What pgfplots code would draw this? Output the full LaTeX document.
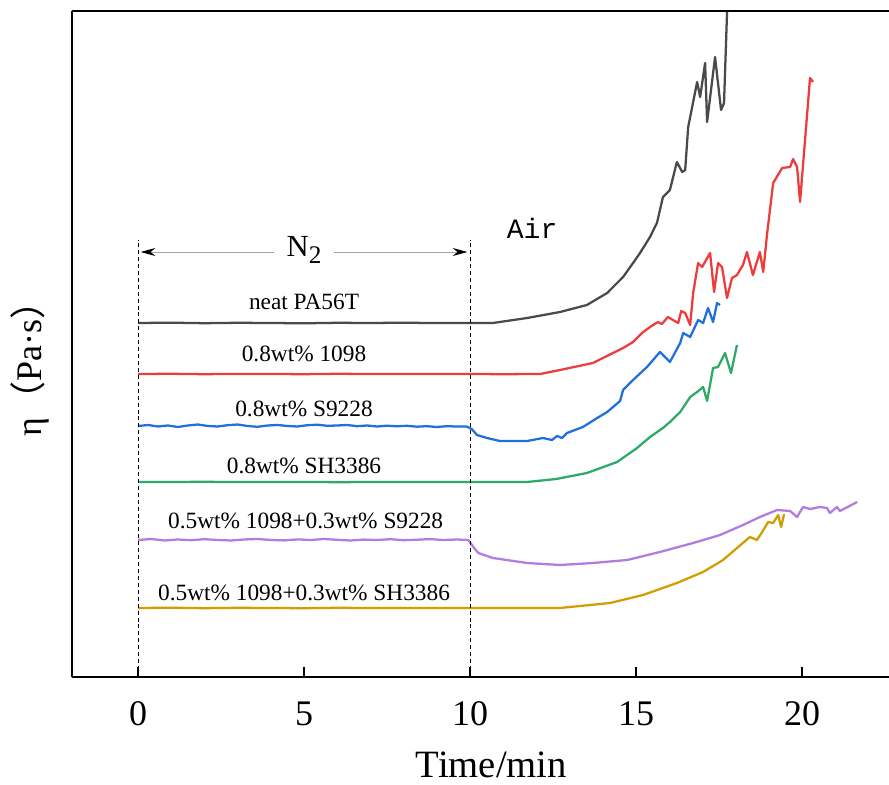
\documentclass[border=0pt]{standalone}
\usepackage{pgfplots}
\pgfplotsset{compat=1.18}
\usepackage{fontspec}
\setmainfont{Liberation Serif}
\setmonofont{Liberation Mono}
\newfontfamily\cjk{Noto Sans CJK SC}
\usetikzlibrary{arrows.meta}
\definecolor{cblack}{HTML}{4A4A4A}
\definecolor{cred}{HTML}{EE3B3B}
\definecolor{cblue}{HTML}{1F6FDC}
\definecolor{cgreen}{HTML}{2FAA66}
\definecolor{cpurple}{HTML}{B07CE0}
\definecolor{cgold}{HTML}{D09E00}
\begin{document}
\begin{tikzpicture}
\path[use as bounding box] (-54pt,-81pt) rectangle (612.75pt,507.75pt);
\begin{axis}[
  at={(0,0)}, anchor=south west,
  scale only axis,
  width=621pt, height=499.5pt,
  xmin=-1.988, xmax=22.95,
  ymin=0, ymax=666,
  axis x line*=bottom, axis y line*=left,
  axis line style={line width=2.2pt, black},
  xtick={0,5,10,15,20}, ytick=\empty,
  tick align=inside,
  major tick length=7.5pt,
  tick style={line width=1.8pt, black},
  /pgf/number format/assume math mode=true,
  xticklabel style={font=\fontsize{27}{27}\selectfont, anchor=base, yshift=-36pt},
  xlabel={Time/min},
  xlabel style={font=\fontsize{29}{29}\selectfont, anchor=base, at={(axis description cs:0.5,0)}, xshift=4pt, yshift=-75.5pt},
  ylabel={η{\cjk（}Pa·s{\cjk）}},
  ylabel style={font=\fontsize{27}{27}\selectfont, anchor=center, at={(axis description cs:-0.0507,0.476)}},
  clip=true,
  every axis plot/.append style={line width=1.7pt, line join=round},
]
% neat PA56T
\addplot[cblack] coordinates {
(0,354) (1,354.3) (2,353.8) (3,354.2) (4,354) (5,353.7) (6,354.2) (7,354) (8,354.3) (9,353.9) (10,354) (10.69,354)
(11.72,359) (12.71,365) (13.52,372) (14.13,384) (14.31,390) (14.61,400) (14.91,414) (15.12,424) (15.42,440)
(15.63,454) (15.81,480) (16.02,487) (16.23,515) (16.39,505) (16.48,507) (16.57,550) (16.84,595) (16.93,580)
(17.08,614) (17.14,555) (17.38,620) (17.56,567) (17.65,574) (17.74,664) (17.85,690)
};
% 0.8wt% 1098
\addplot[cred] coordinates {
(0,303) (1,303.2) (2,302.8) (3,303.1) (4,303) (5,302.8) (6,303.2) (7,303) (8,302.9) (9,303.1) (10,303) (11,302.8)
(12.11,303) (12.71,307) (13.70,314) (14.61,329) (14.91,335) (15.18,344) (15.42,350) (15.66,355) (15.78,353)
(15.96,360) (16.11,357) (16.27,354) (16.36,366) (16.48,364) (16.63,352) (16.72,384) (16.87,414) (16.99,410)
(17.23,424) (17.35,385) (17.47,414) (17.59,410) (17.74,379) (17.89,399) (18.04,402) (18.22,412) (18.34,425)
(18.52,402) (18.73,425) (18.83,405) (18.95,444) (19.13,494) (19.40,509) (19.64,510) (19.73,518) (19.85,510)
(19.94,475) (20.24,599) (20.33,595)
};
% 0.8wt% S9228
\addplot[cblue] coordinates {
(0,251) (0.3,252) (0.6,250.5) (0.9,251.5) (1.2,250) (1.5,251.5) (1.8,252.5) (2.1,251) (2.4,250.5) (2.7,251.8)
(3,252.5) (3.3,251) (3.6,250.2) (3.9,251.5) (4.2,252) (4.5,251) (4.8,250.5) (5.1,251.8) (5.4,252.3) (5.7,251.2)
(6,251.5) (6.3,252) (6.6,250.8) (6.9,251.5) (7.2,250.5) (7.5,251.3) (7.8,250.7) (8.1,251.2) (8.4,250.3) (8.7,250.8)
(9,250) (9.3,250.8) (9.6,250.5) (9.9,250.5) (10.05,248)
(10.21,242) (10.51,239) (10.90,236) (11.72,236) (12.20,239) (12.47,237) (12.62,241) (12.77,239) (12.92,244)
(13.40,250) (13.83,259) (14.13,265) (14.52,276) (14.61,287) (14.91,297) (15.33,310) (15.72,325) (16.02,315)
(16.33,334) (16.42,344) (16.63,340) (16.87,357) (17.02,354) (17.17,369) (17.32,355) (17.44,374) (17.53,372)
};
% 0.8wt% SH3386
\addplot[cgreen] coordinates {
(0,195) (1,195) (2,195.2) (3,194.9) (4,195) (5,195.1) (6,194.8) (7,195) (8,195.1) (9,195) (10,195) (11,195)
(11.72,195) (12.6,198) (13.52,204) (14.43,215) (15.03,229) (15.42,240) (15.81,249) (16.02,255) (16.33,265)
(16.63,280) (16.84,285) (17.02,290) (17.14,276) (17.32,309) (17.47,310) (17.68,324) (17.86,304) (18.04,332)
};
% 0.5wt% 1098+0.3wt% S9228
\addplot[cpurple] coordinates {
(0,137) (0.4,138) (0.8,136.5) (1.2,137.5) (1.6,136.8) (2,137.8) (2.4,137) (2.8,136.5) (3.2,137.5) (3.6,138)
(4,137) (4.4,136.6) (4.8,137.6) (5.2,137) (5.6,138) (6,137.2) (6.4,136.5) (6.8,137.4) (7.2,137) (7.6,137.8)
(8,136.8) (8.4,137.3) (8.8,137.9) (9.2,137) (9.6,137.5) (9.95,137)
(10.1,130) (10.25,124) (10.69,119) (11.72,114) (12.71,112) (13.70,114) (14.73,117) (15.72,125) (16.72,134)
(17.53,142) (18.22,152) (18.73,160) (19.25,167) (19.64,166) (19.85,160) (20.03,170) (20.24,168) (20.54,170)
(20.75,169) (20.84,164) (21.05,170) (21.14,166) (21.66,175)
};
% 0.5wt% 1098+0.3wt% SH3386
\addplot[cgold] coordinates {
(0,69) (1,69.3) (2,68.8) (3,69.2) (4,69) (5,68.8) (6,69.2) (7,69) (8,68.9) (9,69.1) (10,69) (11,69) (12,69)
(12.71,69) (14.22,74) (15.21,82) (16.23,94) (17.02,105) (17.62,117) (18.04,129) (18.43,140) (18.64,137)
(18.80,145) (18.98,155) (19.13,154) (19.28,162) (19.37,150) (19.46,163)
};
% top frame line
\draw[line width=2.2pt, black] (rel axis cs:0,1) -- (rel axis cs:1,1);
% dashed guides
\draw[black, line width=0.6pt, dash pattern=on 3pt off 2.2pt] (axis cs:0,0) -- (axis cs:0,437);
\draw[black, line width=0.6pt, dash pattern=on 3pt off 2.2pt] (axis cs:10,0) -- (axis cs:10,437);
% N2 arrow
\draw[gray!70, line width=0.7pt, -{Stealth[black,length=11pt,width=6pt]}] (axis cs:4.1,425) -- (axis cs:0.08,425);
\draw[gray!70, line width=0.7pt, -{Stealth[black,length=11pt,width=6pt]}] (axis cs:5.9,425) -- (axis cs:9.92,425);
\node[font=\fontsize{23}{23}\selectfont] at (axis cs:5,427) {N\raisebox{-0.45ex}{\fontsize{19}{19}\selectfont 2}};
\node[font=\fontsize{21}{21}\selectfont\ttfamily] at (axis cs:11.87,449) {Air};
% series labels
\node[font=\fontsize{17.5}{17.5}\selectfont] at (axis cs:5,375) {neat PA56T};
\node[font=\fontsize{17.5}{17.5}\selectfont] at (axis cs:5,323) {0.8wt\% 1098};
\node[font=\fontsize{17.5}{17.5}\selectfont] at (axis cs:5,268) {0.8wt\% S9228};
\node[font=\fontsize{17.5}{17.5}\selectfont] at (axis cs:5,211) {0.8wt\% SH3386};
\node[font=\fontsize{17.5}{17.5}\selectfont] at (axis cs:5.05,156) {0.5wt\% 1098+0.3wt\% S9228};
\node[font=\fontsize{17.5}{17.5}\selectfont] at (axis cs:5,84) {0.5wt\% 1098+0.3wt\% SH3386};
\end{axis}
\end{tikzpicture}
\end{document}
